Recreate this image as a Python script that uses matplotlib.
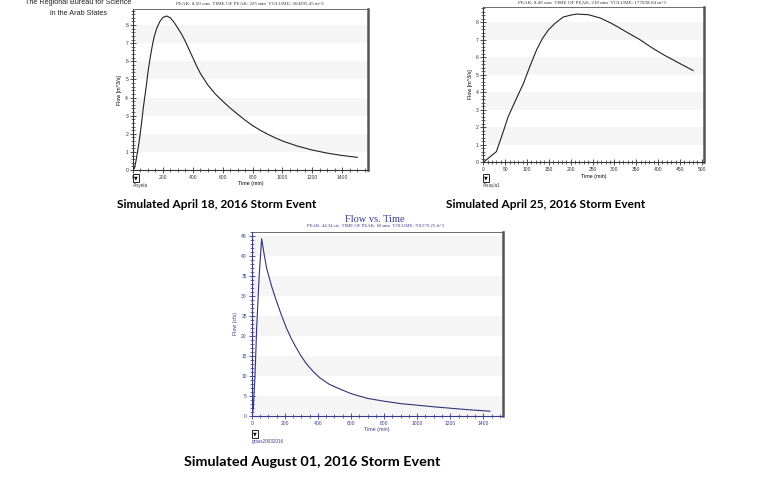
import matplotlib
matplotlib.use("Agg")
import matplotlib.pyplot as plt
from matplotlib.ticker import MultipleLocator

W, H = 780, 495

# ---- data ----
t1 = [0, 10, 20, 30, 40, 50, 60, 70, 80, 90, 100, 115, 130, 142, 160, 180, 200, 225, 250, 275,
      300, 325, 350, 375, 400, 425, 450, 500, 550, 600, 650, 700, 750, 800, 850, 900, 950,
      1000, 1100, 1200, 1300, 1400, 1500]
q1 = [0, 0.1, 0.5, 1.0, 1.5, 2.1, 2.8, 3.5, 4.1, 4.7, 5.4, 6.2, 6.9, 7.37, 7.85, 8.2, 8.42, 8.50, 8.4, 8.15,
      7.83, 7.5, 7.1, 6.65, 6.2, 5.75, 5.34, 4.7, 4.2, 3.8, 3.42, 3.08, 2.75, 2.45, 2.2, 1.98, 1.78,
      1.6, 1.32, 1.1, 0.93, 0.8, 0.70]
t2 = [0, 30, 45, 57, 75, 92, 107, 122, 135, 149, 165, 183, 200, 214, 241, 268, 290, 306, 330,
      359, 385, 413, 451, 480]
q2 = [0, 0.61, 1.7, 2.61, 3.6, 4.51, 5.5, 6.42, 7.05, 7.56, 7.95, 8.29, 8.4, 8.46, 8.42, 8.23, 7.97,
      7.75, 7.4, 6.99, 6.55, 6.13, 5.62, 5.24]
t3 = [0, 5, 10, 20, 30, 45, 60, 75, 90, 120, 150, 180, 210, 240, 270, 300, 330, 370, 410, 470,
      530, 600, 700, 800, 900, 1000, 1100, 1200, 1300, 1440]
q3 = [0, 1, 2, 10, 22, 35, 44.34, 40.5, 37, 32.5, 28.7, 25.2, 22, 19.3, 17, 14.9, 13.1, 11.2, 9.6, 7.9,
      6.8, 5.6, 4.4, 3.7, 3.1, 2.7, 2.3, 1.95, 1.6, 1.2]

subtitle1 = "PEAK: 8.50 cms  TIME OF PEAK: 225 min  VOLUME: 304295.45 m^3"
subtitle2 = "PEAK: 8.49 cms  TIME OF PEAK: 210 min  VOLUME: 177038.04 m^3"
subtitle3 = "PEAK: 44.34 cfs  TIME OF PEAK: 60 min  VOLUME: 701579.25 ft^3"
captions = ["Simulated April 18, 2016 Storm Event",
            "Simulated April 25, 2016 Storm Event",
            "Simulated August 01, 2016 Storm Event"]
legends = ["Alsyela", "Alsayla1", "grass20032016"]

fig = plt.figure(figsize=(W / 100, H / 100), dpi=100)
fig.patch.set_facecolor("white")
BAND = "#f5f5f5"


def px_axes(l, t, r, b):
    return fig.add_axes([l / W, 1 - b / H, (r - l) / W, (b - t) / H])


def style(ax, xlim, ylim, xmaj, xmin, ymaj, ymin, color):
    ax.set_xlim(*xlim)
    ax.set_ylim(*ylim)
    ax.xaxis.set_major_locator(MultipleLocator(xmaj))
    ax.xaxis.set_minor_locator(MultipleLocator(xmin))
    ax.yaxis.set_major_locator(MultipleLocator(ymaj))
    ax.yaxis.set_minor_locator(MultipleLocator(ymin))
    ax.tick_params(which="both", direction="inout", colors=color, labelsize=3.6,
                   labelcolor=color, pad=1.5, top=False, right=False)
    ax.tick_params(which="major", length=4, width=0.6)
    ax.tick_params(which="minor", length=2.5, width=0.5)
    for s in ["left", "bottom"]:
        ax.spines[s].set_color(color)
        ax.spines[s].set_linewidth(0.8)
    for s in ["right", "top"]:
        ax.spines[s].set_color("#555555")
    ax.spines["right"].set_linewidth(1.8)
    ax.spines["top"].set_linewidth(0.6)
    for lab in ax.get_xticklabels() + ax.get_yticklabels():
        lab.set_family("Liberation Sans")


# ---- chart 1 ----
ax1 = px_axes(133, 9.3, 368, 170)
style(ax1, (0, 1572), (0, 8.87), 200, 50, 1, 0.2, "#333333")
for y in [1, 3, 5, 7]:
    ax1.axhspan(y, y + 1, color=BAND, zorder=0, lw=0)
ax1.plot(t1, q1, color="#222222", lw=0.8)
ax1.set_xlabel("Time (min)", fontsize=3.8, labelpad=1, family="Liberation Sans")
ax1.set_ylabel("Flow [m^3/s]", fontsize=3.8, labelpad=2, family="Liberation Sans")
fig.text(250 / W, 1 - 4 / H, subtitle1, fontsize=3.6, ha="center", va="center",
         family="Liberation Serif", color="#333333")

# ---- chart 2 ----
ax2 = px_axes(483.3, 6.7, 704, 162.3)
style(ax2, (0, 505), (0, 8.88), 50, 10, 1, 0.2, "#333333")
for y in [1, 3, 5, 7]:
    ax2.axhspan(y, y + 1, color=BAND, zorder=0, lw=0)
ax2.plot(t2, q2, color="#222222", lw=0.8)
ax2.set_xlabel("Time (min)", fontsize=3.8, labelpad=1, family="Liberation Sans")
ax2.set_ylabel("Flow [m^3/s]", fontsize=3.8, labelpad=2, family="Liberation Sans")
fig.text(592 / W, 1 - 3 / H, subtitle2, fontsize=3.6, ha="center", va="center",
         family="Liberation Serif", color="#333333")

# ---- chart 3 ----
blue = "#3a3a8c"
ax3 = px_axes(251.7, 231.7, 502.7, 416)
style(ax3, (0, 1517), (0, 46.1), 200, 50, 5, 1, blue)
for y in [0, 10, 20, 30, 40]:
    ax3.axhspan(y, y + 5, color=BAND, zorder=0, lw=0)
ax3.plot(t3, q3, color="#333377", lw=0.8)
ax3.set_xlabel("Time (min)", fontsize=3.8, labelpad=1, family="Liberation Sans", color=blue)
ax3.set_ylabel("Flow (cfs)", fontsize=3.8, labelpad=2, family="Liberation Sans", color=blue)
fig.text(375 / W, 1 - 219 / H, "Flow vs. Time", fontsize=7.5, ha="center", va="center",
         family="Liberation Serif", color=blue)
fig.text(375 / W, 1 - 226 / H, subtitle3, fontsize=3.4, ha="center", va="center",
         family="Liberation Serif", color=blue)

# ---- legend boxes ----
for (x, y, lab, c) in [(133, 178, legends[0], "#333333"),
                       (483, 178, legends[1], "#333333"),
                       (252, 434, legends[2], blue)]:
    fig.text((x + 1) / W, 1 - y / H, "\u25BC", fontsize=3.5, ha="left", va="center",
             color="black", family="DejaVu Sans",
             bbox=dict(boxstyle="square,pad=0.25", fc="white", ec="black", lw=0.6))
    fig.text(x / W, 1 - (y + 7) / H, lab, fontsize=3.3, ha="left", va="center",
             color=c, family="Liberation Sans")

# ---- captions ----
fig.text(217 / W, 1 - 204 / H, captions[0], fontsize=8.6, weight="bold",
         ha="center", va="center", family="Lato")
fig.text(546 / W, 1 - 205 / H, captions[1], fontsize=8.6, weight="bold",
         ha="center", va="center", family="Lato")
fig.text(312 / W, 1 - 462 / H, captions[2], fontsize=10.4, weight="bold",
         ha="center", va="center", family="Lato")

# ---- header ----
fig.text(78 / W, 1 - 2.5 / H, "The Regional Bureau for Science", fontsize=5.2,
         ha="center", va="center", family="Liberation Sans", color="#222222")
fig.text(78 / W, 1 - 13.5 / H, "in the Arab States", fontsize=5.2,
         ha="center", va="center", family="Liberation Sans", color="#222222")

fig.savefig("out.png", dpi=100, facecolor="white")
